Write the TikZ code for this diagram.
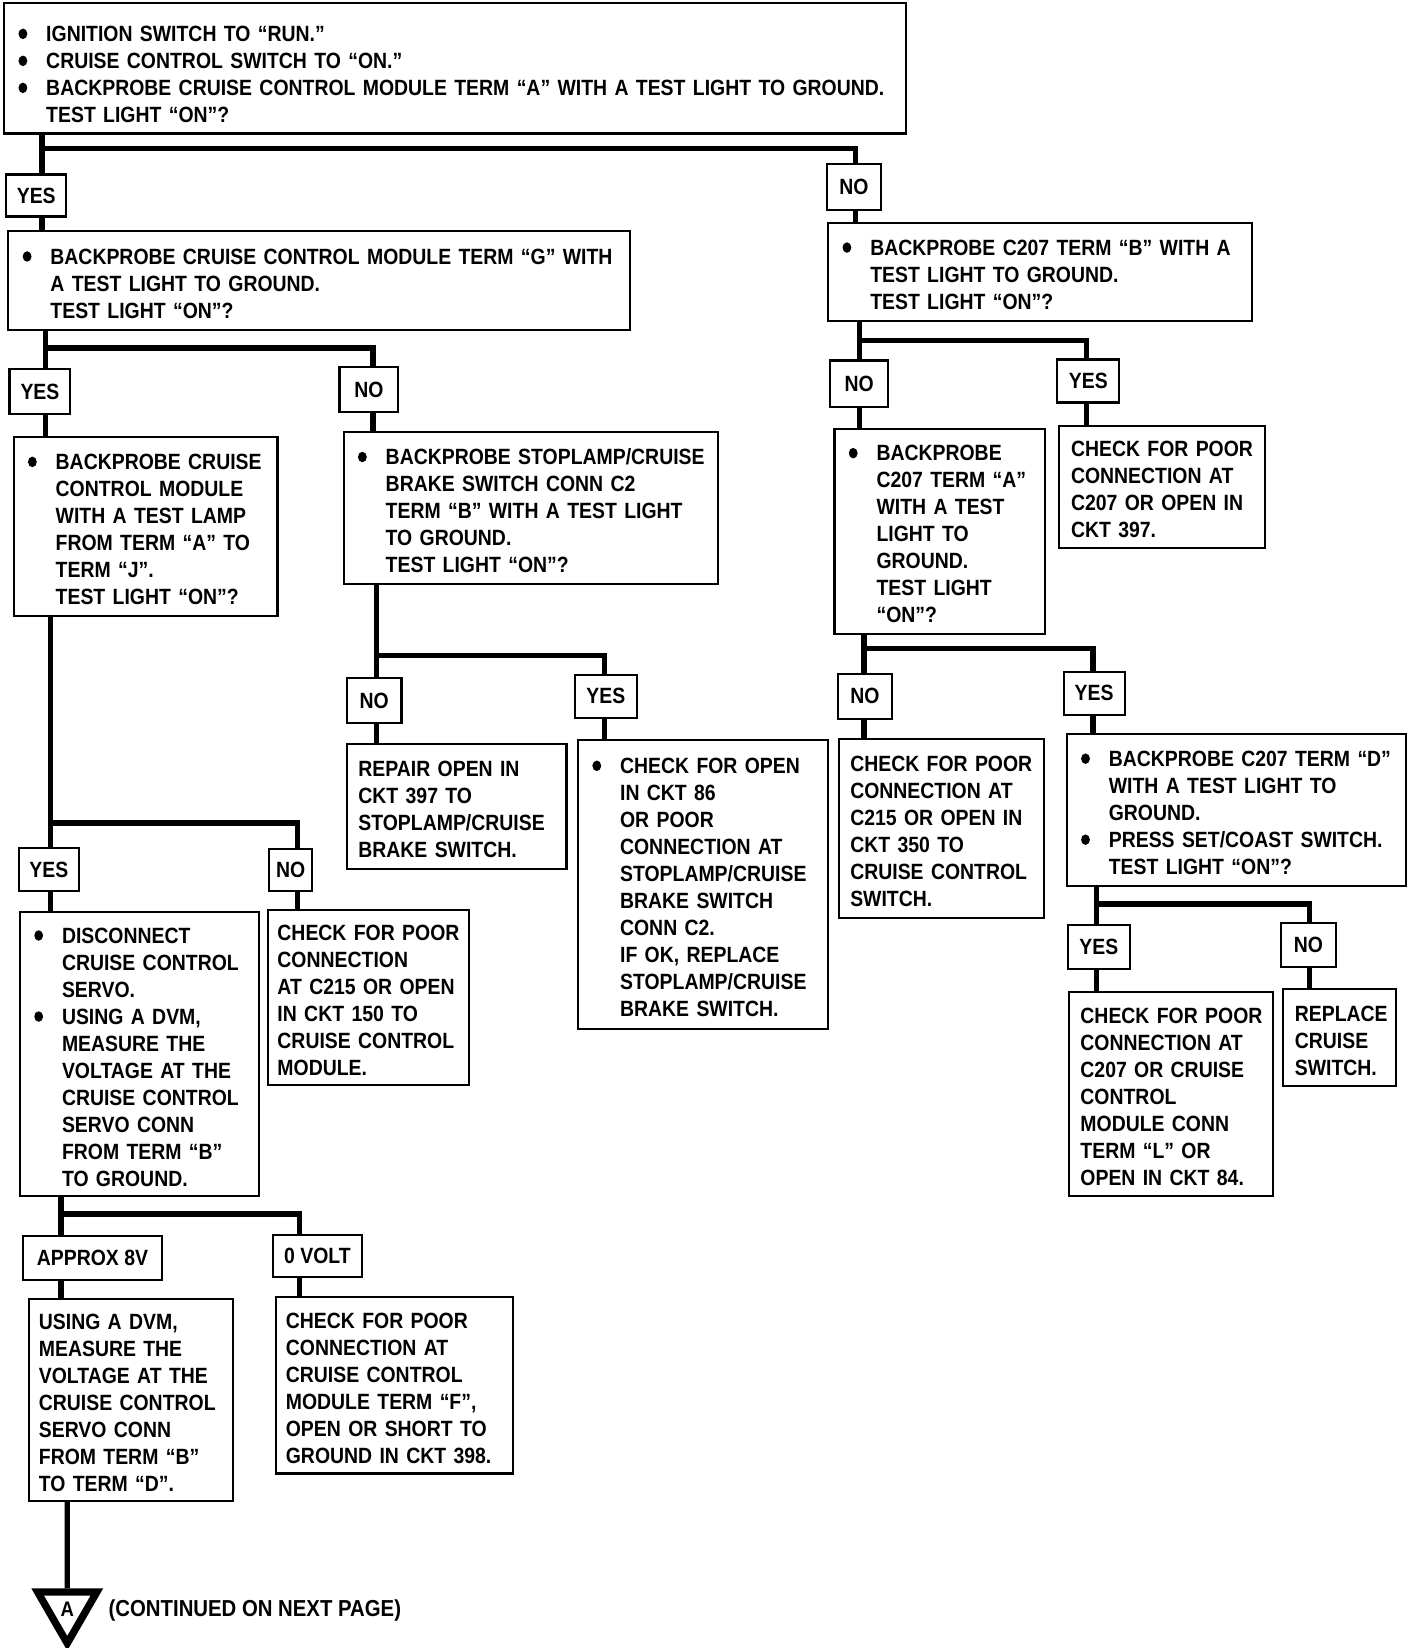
\documentclass[tikz,border=0pt]{standalone}
\usepackage{fontspec}
\setmainfont[FakeStretch=0.88]{Liberation Sans}
\usepackage{tikz}
\usetikzlibrary{shapes.geometric}

\newcommand{\boxfont}{\fontsize{10.5}{12.85}\selectfont\bfseries}
\newcommand{\bl}{\makebox[14.5pt][l]{\hspace{1.3pt}\tikz[baseline=-3.7pt]\fill (2.1pt,0) ellipse (2.1pt and 2.5pt);}}
\newcommand{\ind}{\hspace*{14.5pt}}
% lines of a box, kept as set (no re-wrapping)
\newcommand{\bx}[2][5pt]{\makebox[\hsize][l]{\begin{tabular}{@{}l@{}}#2\\[-#1]\end{tabular}}}

\tikzset{
  pbox/.style={draw, line width=1pt, anchor=north west, inner xsep=5.5pt,
    inner ysep=0pt, align=left, font=\boxfont},
  lbl/.style={draw, line width=1pt, inner sep=0pt, font=\boxfont},
  conn/.style={line width=2.5pt, line join=miter}
}

\begin{document}
\begin{tikzpicture}[x=0.5pt, y=-0.5pt]
      \useasboundingbox (0,0) rectangle (1340,1568);

      % question boxes
      \node[pbox, text width=418pt, minimum height=62pt] (start) at (3,2)
        {\bx[8pt]{\bl IGNITION SWITCH TO “RUN.”\\
         \bl CRUISE CONTROL SWITCH TO “ON.”\\
         \bl BACKPROBE CRUISE CONTROL MODULE TERM “A” WITH A TEST LIGHT TO GROUND.\\
         \ind TEST LIGHT “ON”?}};
      \node[pbox, text width=284.5pt, minimum height=47pt] (termG) at (7,219)
        {\bx{\bl BACKPROBE CRUISE CONTROL MODULE TERM “G” WITH\\
         \ind A TEST LIGHT TO GROUND.\\
         \ind TEST LIGHT “ON”?}};
      \node[pbox, text width=190.5pt, minimum height=46.5pt] (termB) at (787,211)
        {\bx{\bl BACKPROBE C207 TERM “B” WITH A\\
         \ind TEST LIGHT TO GROUND.\\
         \ind TEST LIGHT “ON”?}};
      \node[pbox, text width=114.5pt, minimum height=85pt] (lamp) at (12,415)
        {\bx{\bl BACKPROBE CRUISE\\ \ind CONTROL MODULE\\ \ind WITH A TEST LAMP\\
         \ind FROM TERM “A” TO\\ \ind TERM “J”.\\ \ind TEST LIGHT “ON”?}};
      \node[pbox, text width=167pt, minimum height=72.5pt] (stop) at (326,410)
        {\bx{\bl BACKPROBE STOPLAMP/CRUISE\\ \ind BRAKE SWITCH CONN C2\\
         \ind TERM “B” WITH A TEST LIGHT\\ \ind TO GROUND.\\ \ind TEST LIGHT “ON”?}};
      \node[pbox, text width=89pt, minimum height=97.5pt] (termA) at (793,407)
        {\bx{\bl BACKPROBE\\ \ind C207 TERM “A”\\ \ind WITH A TEST\\ \ind LIGHT TO\\
         \ind GROUND.\\ \ind TEST LIGHT\\ \ind “ON”?}};
      \node[pbox, text width=150.5pt, minimum height=72.5pt] (termD) at (1014,697)
        {\bx{\bl BACKPROBE C207 TERM “D”\\ \ind WITH A TEST LIGHT TO\\ \ind GROUND.\\
         \bl PRESS SET/COAST SWITCH.\\ \ind TEST LIGHT “ON”?}};
      \node[pbox, text width=102.5pt, minimum height=135pt] (servo) at (18,867)
        {\bx{\bl DISCONNECT\\ \ind CRUISE CONTROL\\ \ind SERVO.\\ \bl USING A DVM,\\
         \ind MEASURE THE\\ \ind VOLTAGE AT THE\\ \ind CRUISE CONTROL\\
         \ind SERVO CONN\\ \ind FROM TERM “B”\\ \ind TO GROUND.}};

      % result boxes
      \node[pbox, text width=87pt, minimum height=58pt] (fixA) at (1007,404)
        {\bx{CHECK FOR POOR\\ CONNECTION AT\\ C207 OR OPEN IN\\ CKT 397.}};
      \node[pbox, text width=93.5pt, minimum height=59.5pt] (repair) at (329,707)
        {\bx{REPAIR OPEN IN\\ CKT 397 TO\\ STOPLAMP/CRUISE\\ BRAKE SWITCH.}};
      \node[pbox, text width=108pt, minimum height=137.5pt] (fixB) at (549,703)
        {\bx{\bl CHECK FOR OPEN\\ \ind IN CKT 86\\ \ind OR POOR\\ \ind CONNECTION AT\\
         \ind STOPLAMP/CRUISE\\ \ind BRAKE SWITCH\\ \ind CONN C2.\\
         \ind IF OK, REPLACE\\ \ind STOPLAMP/CRUISE\\ \ind BRAKE SWITCH.}};
      \node[pbox, text width=86.5pt, minimum height=85pt] (fixC) at (797,702)
        {\bx{CHECK FOR POOR\\ CONNECTION AT\\ C215 OR OPEN IN\\ CKT 350 TO\\
         CRUISE CONTROL\\ SWITCH.}};
      \node[pbox, text width=86pt, minimum height=97pt] (fixD) at (1016,943)
        {\bx{CHECK FOR POOR\\ CONNECTION AT\\ C207 OR CRUISE\\ CONTROL\\ MODULE CONN\\
         TERM “L” OR\\ OPEN IN CKT 84.}};
      \node[pbox, text width=42.5pt, minimum height=46pt] (replace) at (1220,940)
        {\bx{REPLACE\\ CRUISE\\ SWITCH.}};
      \node[pbox, inner xsep=4.5pt, text width=86.5pt, minimum height=83pt] (fixE) at (254,865)
        {\bx{CHECK FOR POOR\\ CONNECTION\\ AT C215 OR OPEN\\ IN CKT 150 TO\\
         CRUISE CONTROL\\ MODULE.}};
      \node[pbox, inner xsep=4.5pt, text width=88pt, minimum height=96pt] (dvm) at (27,1235)
        {\bx{USING A DVM,\\ MEASURE THE\\ VOLTAGE AT THE\\ CRUISE CONTROL\\
         SERVO CONN\\ FROM TERM “B”\\ TO TERM “D”.}};
      \node[pbox, inner xsep=4.5pt, text width=103.5pt, minimum height=84pt] (fixF) at (262,1233)
        {\bx{CHECK FOR POOR\\ CONNECTION AT\\ CRUISE CONTROL\\ MODULE TERM “F”,\\
         OPEN OR SHORT TO\\ GROUND IN CKT 398.}};

      % answer labels
      \node[lbl, minimum width=28.5pt, minimum height=20pt] (yes1) at (34.5,186) {YES};
      \node[lbl, minimum width=25.5pt, minimum height=22pt] (no1) at (812.5,178) {NO};
      \node[lbl, minimum width=29pt, minimum height=21.5pt] (yes2) at (38,372.5) {YES};
      \node[lbl, minimum width=28pt, minimum height=21.5pt] (no2) at (351,370.5) {NO};
      \node[lbl, minimum width=27.5pt, minimum height=22pt] (no3) at (817.5,365) {NO};
      \node[lbl, minimum width=29.5pt, minimum height=20.5pt] (yes3) at (1035.5,362.5) {YES};
      \node[lbl, minimum width=26pt, minimum height=21.5pt] (no4) at (356,666.5) {NO};
      \node[lbl, minimum width=29.5pt, minimum height=20.5pt] (yes4) at (576.5,662.5) {YES};
      \node[lbl, minimum width=26pt, minimum height=21.5pt] (no5) at (823,662.5) {NO};
      \node[lbl, minimum width=29pt, minimum height=20.5pt] (yes5) at (1041,659.5) {YES};
      \node[lbl, minimum width=29.5pt, minimum height=21pt] (yes6) at (1045.5,901) {YES};
      \node[lbl, minimum width=26pt, minimum height=21pt] (no6) at (1245,899) {NO};
      \node[lbl, minimum width=28.5pt, minimum height=20.5pt] (yes7) at (46.5,827.5) {YES};
      \node[lbl, minimum width=20.5pt, minimum height=20pt] (no7) at (276.5,828) {NO};
      \node[lbl, minimum width=66pt, minimum height=21pt] (volt8) at (88,1197) {APPROX 8V};
      \node[lbl, minimum width=42pt, minimum height=20pt] (volt0) at (302,1195) {0 VOLT};

      % off-page connector
      \node[regular polygon, regular polygon sides=3, shape border rotate=180,
        draw, line width=3.5pt, fill=white, minimum size=32.5pt, inner sep=0pt,
        font=\fontsize{10}{10}\selectfont\bfseries] (offA) at (64,1531) {A};
      \node[anchor=west, inner sep=0pt, font=\fontsize{11}{13}\selectfont\bfseries]
        (nextpg) at (103,1532) {(CONTINUED ON NEXT PAGE)};

      % branch points
      \coordinate (j1l) at (40,141);    \coordinate (j1r) at (814,141);
      \coordinate (j2l) at (43,331);    \coordinate (j2r) at (355,331);
      \coordinate (j3l) at (818,324);   \coordinate (j3r) at (1034,324);
      \coordinate (j4l) at (358,624);   \coordinate (j4r) at (575,624);
      \coordinate (j5l) at (822,617);   \coordinate (j5r) at (1040,617);
      \coordinate (j6l) at (1043,860);  \coordinate (j6r) at (1246,860);
      \coordinate (j7l) at (48,783);    \coordinate (j7r) at (283,783);
      \coordinate (j8l) at (58,1155);   \coordinate (j8r) at (285,1155);

      \draw[conn] (start.south -| j1l) -- (yes1.north -| j1l);
      \draw[conn] (j1l) -| (no1.north -| j1r);
      \draw[conn] (yes1.south -| j1l) -- (termG.north -| j1l);
      \draw[conn] (no1.south -| j1r) -- (termB.north -| j1r);

      \draw[conn] (termG.south -| j2l) -- (yes2.north -| j2l);
      \draw[conn] (j2l) -| (no2.north -| j2r);
      \draw[conn] (yes2.south -| j2l) -- (lamp.north -| j2l);
      \draw[conn] (no2.south -| j2r) -- (stop.north -| j2r);

      \draw[conn] (termB.south -| j3l) -- (no3.north -| j3l);
      \draw[conn] (j3l) -| (yes3.north -| j3r);
      \draw[conn] (no3.south -| j3l) -- (termA.north -| j3l);
      \draw[conn] (yes3.south -| j3r) -- (fixA.north -| j3r);

      \draw[conn] (stop.south -| j4l) -- (no4.north -| j4l);
      \draw[conn] (j4l) -| (yes4.north -| j4r);
      \draw[conn] (no4.south -| j4l) -- (repair.north -| j4l);
      \draw[conn] (yes4.south -| j4r) -- (fixB.north -| j4r);

      \draw[conn] (termA.south -| j5l) -- (no5.north -| j5l);
      \draw[conn] (j5l) -| (yes5.north -| j5r);
      \draw[conn] (no5.south -| j5l) -- (fixC.north -| j5l);
      \draw[conn] (yes5.south -| j5r) -- (termD.north -| j5r);

      \draw[conn] (termD.south -| j6l) -- (yes6.north -| j6l);
      \draw[conn] (j6l) -| (no6.north -| j6r);
      \draw[conn] (yes6.south -| j6l) -- (fixD.north -| j6l);
      \draw[conn] (no6.south -| j6r) -- (replace.north -| j6r);

      \draw[conn] (lamp.south -| j7l) -- (yes7.north -| j7l);
      \draw[conn] (j7l) -| (no7.north -| j7r);
      \draw[conn] (yes7.south -| j7l) -- (servo.north -| j7l);
      \draw[conn] (no7.south -| j7r) -- (fixE.north -| j7r);

      \draw[conn] (servo.south -| j8l) -- (volt8.north -| j8l);
      \draw[conn] (j8l) -| (volt0.north -| j8r);
      \draw[conn] (volt8.south -| j8l) -- (dvm.north -| j8l);
      \draw[conn] (volt0.south -| j8r) -- (fixF.north -| j8r);

      \draw[conn] (dvm.south -| offA) -- (offA.north);
    \end{tikzpicture}
\end{document}
